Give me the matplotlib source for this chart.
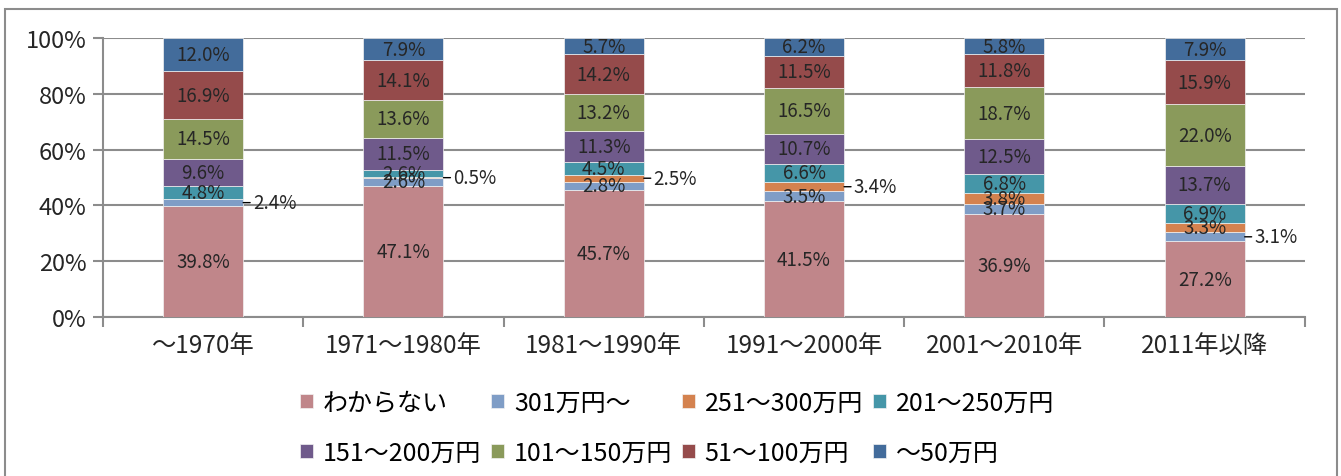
## 年代別 収入階層の構成比 (100%積み上げ棒グラフ)

import numpy as np
import matplotlib
matplotlib.use('Agg')
import matplotlib.pyplot as plt
from matplotlib.patches import Rectangle

plt.rcParams['font.family'] = ['Noto Sans CJK JP', 'DejaVu Sans']

## データ
categories = ['～1970年', '1971～1980年', '1981～1990年', '1991～2000年', '2001～2010年', '2011年以降']
series_names = ['わからない', '301万円～', '251～300万円', '201～250万円',
                '151～200万円', '101～150万円', '51～100万円', '～50万円']

wakaranai = [39.8, 47.1, 45.7, 41.5, 36.9, 27.2]
over_301 = [2.4, 2.6, 2.8, 3.5, 3.7, 3.1]
r251_300 = [0.0, 0.5, 2.5, 3.4, 3.8, 3.3]
r201_250 = [4.8, 2.6, 4.5, 6.6, 6.8, 6.9]
r151_200 = [9.6, 11.5, 11.3, 10.7, 12.5, 13.7]
r101_150 = [14.5, 13.6, 13.2, 16.5, 18.7, 22.0]
r51_100 = [16.9, 14.1, 14.2, 11.5, 11.8, 15.9]
under_50 = [12.0, 7.9, 5.7, 6.2, 5.8, 7.9]

## 外側にラベルを出す (系列番号, カテゴリ番号)
outside_labels = [(1, 0), (2, 1), (2, 2), (2, 3), (1, 5)]

colors = ['#C0868A', '#7F9DC6', '#D4824F', '#4596A8',
          '#6F5A8B', '#8A9A5B', '#954B4B', '#436C9B']

values = [wakaranai, over_301, r251_300, r201_250, r151_200, r101_150, r51_100, under_50]

fig = plt.figure(figsize=(13.41, 4.77), dpi=100)
ax = fig.add_axes([0.0768, 0.3333, 0.8962, 0.5849])

x = np.arange(len(categories))
bar_w = 0.4
bottom = np.zeros(len(categories))
handles = []

for k, vals in enumerate(values):
    v = np.array(vals) / 100.0
    bars = ax.bar(x, v, bar_w, bottom=bottom, color=colors[k], edgecolor='#F2F2F2',
                  linewidth=0.5, label=series_names[k], zorder=3)
    handles.append(bars)
    for i in range(len(categories)):
        if vals[i] <= 0:
            continue
        cy = bottom[i] + v[i] / 2
        if (k, i) in outside_labels:
            ax.annotate('%.1f%%' % vals[i], xy=(x[i] + bar_w / 2, cy), xytext=(7, 0),
                        textcoords='offset points', ha='left', va='center',
                        fontsize=13.5, color='#262626',
                        arrowprops=dict(arrowstyle='-', color='black', lw=1,
                                        shrinkA=0, shrinkB=0), zorder=4)
        else:
            ax.text(x[i], cy, '%.1f%%' % vals[i], ha='center', va='center',
                    fontsize=13.5, color='#262626', zorder=4)
    bottom = bottom + v

## 軸設定
ax.set_xlim(-0.5, len(categories) - 0.5)
ax.set_ylim(0, 1)
ax.set_yticks(np.arange(0, 1.01, 0.2))
ax.set_yticklabels(['%d%%' % (t * 100) for t in np.arange(0, 1.01, 0.2)], fontsize=17, color='#262626')
ax.yaxis.grid(True, color='#8C8C8C', linewidth=1.5, zorder=0)
ax.set_axisbelow(True)

ax.set_xticks(np.arange(-0.5, len(categories), 1.0))
ax.set_xticklabels([])
ax.set_xticks(x, minor=True)
ax.set_xticklabels(categories, minor=True, fontsize=17.5, color='#262626')
ax.tick_params(axis='x', which='major', length=7, width=1.5, color='#8C8C8C', direction='out')
ax.tick_params(axis='x', which='minor', length=0, pad=11)
ax.tick_params(axis='y', length=7, width=1.5, color='#8C8C8C', direction='out', pad=5)

for s in ['top', 'right']:
    ax.spines[s].set_visible(False)
for s in ['left', 'bottom']:
    ax.spines[s].set_color('#8C8C8C')
    ax.spines[s].set_linewidth(1.5)

## 凡例 (行ごとに並べる)
order = [0, 4, 1, 5, 2, 6, 3, 7]
fig.legend([handles[j] for j in order], [series_names[j] for j in order],
           loc='center', bbox_to_anchor=(0.505, 1 - 429 / 477.0), ncol=4, frameon=False,
           fontsize=18, handlelength=0.5, handleheight=0.5, handletextpad=0.4,
           columnspacing=0.4, labelspacing=0.95)

## 外枠
fig.patches.append(Rectangle((5 / 1341.0, -0.1), 1332 / 1341.0, 1.1 - 10 / 477.0,
                             transform=fig.transFigure, fill=False,
                             edgecolor='#8C8C8C', linewidth=1.5))

plt.savefig('out.png', dpi=100)
plt.close(fig)
